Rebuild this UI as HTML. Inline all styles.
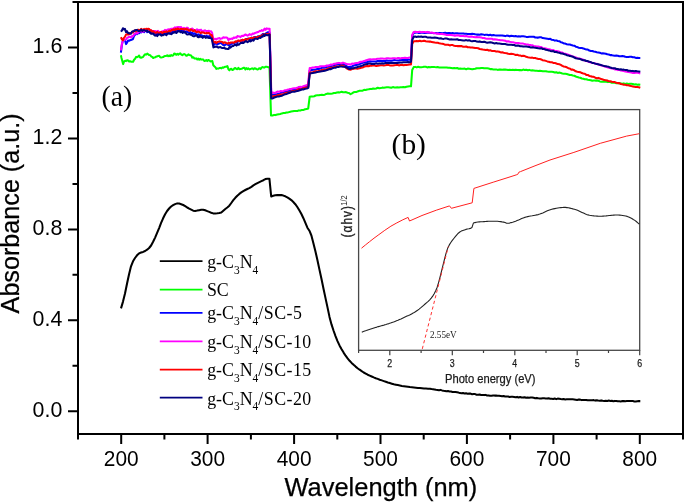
<!DOCTYPE html>
<html><head><meta charset="utf-8"><title>UV-vis absorbance</title>
<style>html,body{margin:0;padding:0;background:#fff}svg{display:block;will-change:transform}</style></head>
<body>
<svg width="685" height="502" viewBox="0 0 685 502">
<rect width="685" height="502" fill="#fff"/>
<path d="M121.0,308.4 L123.0,301.6 L125.0,293.5 L127.0,283.7 L129.0,274.5 L131.0,266.3 L133.0,261.3 L135.0,258.0 L137.0,255.3 L139.0,253.4 L141.1,252.5 L143.1,251.9 L145.1,251.0 L147.1,249.7 L149.1,248.0 L151.1,245.5 L153.1,241.8 L155.1,237.6 L157.1,232.9 L159.1,228.1 L161.1,222.9 L163.1,218.3 L165.1,214.3 L167.1,211.0 L169.1,208.5 L171.1,206.5 L173.1,205.2 L175.1,204.1 L177.2,203.4 L179.2,203.6 L181.2,204.2 L183.2,205.0 L185.2,206.1 L187.2,207.5 L189.2,208.7 L191.2,209.7 L193.2,210.7 L195.2,210.9 L197.2,210.6 L199.2,210.2 L201.2,209.8 L203.2,209.7 L205.2,210.3 L207.2,211.1 L209.2,211.9 L211.2,212.7 L213.2,213.4 L215.3,213.5 L217.3,213.3 L219.3,213.0 L221.3,212.6 L223.3,210.8 L225.3,209.0 L227.3,207.5 L229.3,205.7 L231.3,203.0 L233.3,200.2 L235.3,197.8 L237.3,195.7 L239.3,193.9 L241.3,192.4 L243.3,191.1 L245.3,190.0 L247.3,189.0 L249.3,188.1 L251.4,186.8 L253.4,185.4 L255.4,184.2 L257.4,183.1 L259.4,182.1 L261.4,181.1 L263.4,180.2 L265.4,179.1 L267.4,178.7 L269.4,178.7 L271.2,196.5 L273.2,195.7 L275.2,195.2 L277.2,195.1 L279.2,195.1 L281.3,195.1 L283.3,195.6 L285.3,196.3 L287.3,197.3 L289.3,198.6 L291.3,200.1 L293.3,202.0 L295.3,204.2 L297.3,207.0 L299.3,210.3 L301.4,214.0 L303.4,218.2 L305.4,222.8 L307.4,227.7 L309.4,230.7 L311.4,235.5 L313.4,243.3 L315.4,251.2 L317.4,259.9 L319.4,269.4 L321.5,279.0 L323.5,288.7 L325.5,298.1 L327.5,307.4 L329.5,316.9 L331.5,324.4 L333.5,330.5 L335.5,336.1 L337.5,341.1 L339.5,345.4 L341.6,349.2 L343.6,352.6 L345.6,355.7 L347.6,358.4 L349.6,360.8 L351.6,362.9 L353.6,364.8 L355.6,366.6 L357.6,368.2 L359.6,369.7 L361.7,371.2 L363.7,372.5 L365.7,373.6 L367.7,374.7 L369.7,375.6 L371.7,376.5 L373.7,377.4 L375.7,378.2 L377.7,378.9 L379.7,379.7 L381.8,380.4 L383.8,381.1 L385.8,381.8 L387.8,382.5 L389.8,383.1 L391.8,383.7 L393.8,384.3 L395.8,384.7 L397.8,385.1 L399.8,385.5 L401.9,385.9 L403.9,386.2 L405.9,386.5 L407.9,386.8 L409.9,387.1 L411.9,387.3 L413.9,387.5 L415.9,387.7 L417.9,387.9 L419.9,388.1 L422.0,388.3 L424.0,388.5 L426.0,388.6 L428.0,388.7 L430.0,388.8 L431.5,389.1 L433.0,389.3 L434.5,389.5 L436.0,389.8 L437.5,389.9 L439.0,390.2 L440.5,389.9 L442.0,390.4 L443.5,390.8 L445.0,390.9 L446.5,391.2 L448.0,391.0 L449.5,391.4 L451.0,391.5 L452.5,391.9 L454.0,392.1 L455.5,392.0 L457.0,392.3 L458.5,392.6 L460.0,393.1 L461.5,393.2 L463.0,393.0 L464.5,393.5 L466.1,393.3 L467.6,393.7 L469.1,393.6 L470.6,393.6 L472.1,394.2 L473.6,394.0 L475.1,394.1 L476.6,394.7 L478.1,394.7 L479.6,394.5 L481.1,395.0 L482.6,394.9 L484.1,395.1 L485.6,394.9 L487.1,395.5 L488.6,395.4 L490.1,395.7 L491.6,395.7 L493.1,395.5 L494.6,395.6 L496.1,395.6 L497.6,395.7 L499.1,395.8 L500.6,396.0 L502.1,396.3 L503.6,396.0 L505.1,396.5 L506.6,396.4 L508.1,396.5 L509.6,396.9 L511.1,396.8 L512.6,396.8 L514.1,396.9 L515.6,397.2 L517.1,396.9 L518.6,397.5 L520.1,397.0 L521.6,397.5 L523.1,397.6 L524.6,397.2 L526.1,397.8 L527.6,397.6 L529.1,397.8 L530.6,397.5 L532.1,397.6 L533.6,397.8 L535.1,398.2 L536.7,397.9 L538.2,398.3 L539.7,398.4 L541.2,398.5 L542.7,398.2 L544.2,398.3 L545.7,398.4 L547.2,398.6 L548.7,398.3 L550.2,398.7 L551.7,398.8 L553.2,398.9 L554.7,398.5 L556.2,399.1 L557.7,398.6 L559.2,398.8 L560.7,399.1 L562.2,399.3 L563.7,399.0 L565.2,399.4 L566.7,399.3 L568.2,399.2 L569.7,399.3 L571.2,399.3 L572.7,399.3 L574.2,399.4 L575.7,399.7 L577.2,400.0 L578.7,399.6 L580.2,399.6 L581.7,400.1 L583.2,400.0 L584.7,399.9 L586.2,399.9 L587.7,400.2 L589.2,400.3 L590.7,400.2 L592.2,400.2 L593.7,400.1 L595.2,400.6 L596.7,400.2 L598.2,400.5 L599.7,400.7 L601.2,400.4 L602.7,400.8 L604.2,401.0 L605.8,400.8 L607.3,401.0 L608.8,400.6 L610.3,400.9 L611.8,400.7 L613.3,401.2 L614.8,400.9 L616.3,401.0 L617.8,401.3 L619.3,401.3 L620.8,401.4 L622.3,401.1 L623.8,401.1 L625.3,401.2 L626.8,401.1 L628.3,401.0 L629.8,401.0 L631.3,400.9 L632.8,401.0 L634.3,401.4 L635.8,401.4 L637.3,401.2 L638.8,401.1 L640.3,401.1" fill="none" stroke="#000" stroke-width="2.05" stroke-linejoin="round" stroke-linecap="butt" />
<path d="M120.9,55.3 L121.5,58.0 L123.1,64.1 L124.1,61.4 L125.1,60.8 L126.1,61.1 L127.1,60.2 L128.1,60.5 L129.1,61.5 L130.1,61.2 L131.1,61.7 L132.1,61.8 L133.1,61.8 L134.1,59.7 L135.1,58.7 L136.1,56.9 L137.1,57.1 L138.1,56.6 L139.1,55.5 L140.1,57.5 L141.1,57.7 L142.2,57.3 L143.2,56.8 L144.2,55.3 L145.2,54.2 L146.2,54.6 L147.2,53.6 L148.2,54.3 L149.2,55.1 L150.2,55.2 L151.2,56.5 L152.2,56.9 L153.2,58.0 L154.2,57.4 L155.2,57.3 L156.2,56.6 L157.2,56.4 L158.2,55.9 L159.2,55.7 L160.2,57.2 L161.2,57.4 L162.2,57.3 L163.2,57.1 L164.2,56.3 L165.2,56.0 L166.2,55.9 L167.2,55.3 L168.2,56.3 L169.2,55.5 L170.2,56.1 L171.2,55.0 L172.2,55.8 L173.2,55.4 L174.2,53.6 L175.2,53.7 L176.2,54.8 L177.2,53.9 L178.3,54.8 L179.3,53.8 L180.3,53.4 L181.3,54.7 L182.3,55.2 L183.3,54.4 L184.3,54.1 L185.3,54.6 L186.3,55.7 L187.3,55.4 L188.3,54.4 L189.3,55.0 L190.3,55.2 L191.3,55.7 L192.3,57.7 L193.3,57.2 L194.3,58.4 L195.3,58.6 L196.3,58.4 L197.3,59.5 L198.3,58.6 L199.3,59.7 L200.3,58.9 L201.3,59.6 L202.3,59.4 L203.3,59.6 L204.3,61.0 L205.3,60.8 L206.3,60.0 L207.3,61.1 L208.3,60.0 L209.3,60.4 L210.3,61.4 L211.3,61.2 L212.3,61.1 L213.3,65.3 L214.3,66.3 L215.4,67.3 L216.4,68.9 L217.4,68.5 L218.4,68.6 L219.4,68.1 L220.4,67.9 L221.4,68.4 L222.4,67.4 L223.4,67.8 L224.4,67.0 L225.4,66.7 L226.4,66.7 L227.4,66.0 L228.4,69.3 L229.4,70.3 L230.4,69.0 L231.4,68.8 L232.4,70.0 L233.4,69.6 L234.4,68.3 L235.4,68.0 L236.4,68.9 L237.4,69.2 L238.4,67.9 L239.4,69.2 L240.4,69.1 L241.4,68.7 L242.4,68.4 L243.4,67.8 L244.4,67.8 L245.4,69.5 L246.4,68.2 L247.4,69.1 L248.4,68.4 L249.4,69.4 L250.4,69.1 L251.5,68.6 L252.5,68.4 L253.5,69.4 L254.5,68.2 L255.5,68.5 L256.5,69.1 L257.5,69.5 L258.5,68.9 L259.5,68.2 L260.5,69.1 L261.5,67.7 L262.5,67.1 L263.5,67.4 L264.5,67.6 L265.5,66.7 L266.5,66.8 L267.5,67.0 L268.5,67.3 L269.5,67.3 L271.0,115.4 L272.6,115.5 L274.1,114.9 L275.6,115.1 L277.2,114.6 L278.8,114.2 L280.3,114.0 L281.9,113.4 L283.4,113.1 L284.9,112.9 L286.5,112.4 L288.1,112.4 L289.6,111.9 L291.1,111.6 L292.7,111.3 L294.2,111.0 L295.8,111.1 L297.4,111.0 L298.9,110.4 L300.4,110.5 L302.0,109.9 L303.6,109.9 L305.1,109.2 L306.6,109.1 L308.2,108.5 L309.7,96.7 L311.2,96.4 L312.7,96.5 L314.2,96.2 L315.7,95.5 L317.3,95.3 L318.8,95.3 L320.3,94.9 L321.8,94.7 L323.3,95.0 L324.8,94.7 L326.3,93.9 L327.8,93.6 L329.4,93.8 L330.9,93.8 L332.4,93.5 L333.9,93.1 L335.4,92.9 L336.9,92.5 L338.4,92.3 L339.9,92.4 L341.5,91.8 L343.0,92.2 L344.5,92.3 L346.0,92.1 L347.5,92.8 L349.0,93.0 L350.5,94.2 L352.0,93.3 L353.5,92.3 L355.1,92.0 L356.6,91.9 L358.1,91.2 L359.6,90.8 L361.1,90.8 L362.6,90.7 L364.1,89.8 L365.6,89.9 L367.2,89.4 L368.7,89.3 L370.2,88.9 L371.7,89.0 L373.2,88.5 L374.7,88.7 L376.2,88.5 L377.7,87.8 L379.2,88.3 L380.8,88.1 L382.3,87.6 L383.8,87.8 L385.3,87.5 L386.8,87.3 L388.3,87.3 L389.8,87.4 L391.3,87.8 L392.9,87.1 L394.4,87.5 L395.9,87.6 L397.4,87.2 L398.9,87.4 L400.4,87.2 L401.9,87.3 L403.4,87.0 L405.0,87.2 L406.5,86.7 L408.0,86.5 L409.5,86.3 L411.0,86.3 L412.2,70.0 L413.7,67.1 L415.2,66.9 L416.7,67.4 L418.2,66.8 L419.7,67.2 L421.2,67.2 L422.7,67.0 L424.2,66.7 L425.7,66.8 L427.2,67.4 L428.7,67.0 L430.2,67.3 L431.7,66.9 L433.2,66.9 L434.7,67.1 L436.2,67.2 L437.7,67.1 L439.2,67.5 L440.7,67.5 L442.2,67.5 L443.7,67.4 L445.2,67.5 L446.7,67.5 L448.2,67.8 L449.7,67.7 L451.2,68.0 L452.7,68.3 L454.2,68.0 L455.7,68.3 L457.2,68.0 L458.7,68.7 L460.2,68.6 L461.7,68.7 L463.2,68.8 L464.7,68.6 L466.2,69.2 L467.7,68.6 L469.2,68.8 L470.7,69.0 L472.2,69.2 L473.7,68.9 L475.2,68.8 L476.7,68.2 L478.2,68.2 L479.7,68.3 L481.2,68.1 L482.7,68.0 L484.2,68.3 L485.7,68.2 L487.2,68.3 L488.7,68.5 L490.2,69.1 L491.7,69.1 L493.2,69.4 L494.7,69.4 L496.2,69.4 L497.7,69.9 L499.2,69.6 L500.7,69.6 L502.2,69.7 L503.7,69.6 L505.2,69.6 L506.7,69.7 L508.2,70.0 L509.7,69.7 L511.2,69.9 L512.7,69.8 L514.2,70.1 L515.7,69.7 L517.2,69.9 L518.7,70.1 L520.2,70.1 L521.7,70.2 L523.2,69.6 L524.7,69.9 L526.2,69.7 L527.8,70.3 L529.3,69.9 L530.8,70.4 L532.3,70.3 L533.8,70.5 L535.3,70.7 L536.8,70.8 L538.3,70.9 L539.8,70.7 L541.3,71.0 L542.8,71.3 L544.3,71.3 L545.8,71.2 L547.3,71.6 L548.8,71.7 L550.3,71.7 L551.8,71.8 L553.3,72.0 L554.8,72.5 L556.3,72.2 L557.8,72.9 L559.3,72.6 L560.8,72.9 L562.3,73.5 L563.8,73.7 L565.3,73.7 L566.8,74.0 L568.3,74.5 L569.8,75.0 L571.3,75.1 L572.8,75.5 L574.3,75.8 L575.8,76.5 L577.3,77.1 L578.8,77.5 L580.3,77.8 L581.8,78.5 L583.3,78.8 L584.8,79.3 L586.3,79.3 L587.8,79.8 L589.3,80.0 L590.8,80.2 L592.3,80.7 L593.8,80.5 L595.3,80.6 L596.8,80.6 L598.3,80.8 L599.8,81.4 L601.3,81.7 L602.8,81.7 L604.3,81.6 L605.8,81.6 L607.3,82.1 L608.8,82.0 L610.3,82.1 L611.8,82.7 L613.3,82.5 L614.8,82.8 L616.3,83.2 L617.8,83.1 L619.3,83.2 L620.8,83.4 L622.3,83.8 L623.8,83.4 L625.3,83.9 L626.8,83.6 L628.3,84.0 L629.8,83.7 L631.3,83.8 L632.8,84.0 L634.3,84.5 L635.8,84.3 L637.3,84.7 L638.8,84.5 L640.3,84.7" fill="none" stroke="#00ff00" stroke-width="2.05" stroke-linejoin="round" stroke-linecap="butt" />
<path d="M120.9,52.6 L121.9,44.7 L122.9,40.6 L123.9,39.9 L124.9,39.8 L126.0,44.1 L127.0,42.7 L128.0,40.6 L129.0,40.8 L130.0,40.2 L131.0,39.9 L132.0,39.6 L133.0,39.0 L134.0,36.0 L135.0,34.9 L136.1,33.5 L137.1,34.2 L138.1,32.2 L139.1,33.2 L140.1,31.5 L141.1,32.4 L142.1,31.6 L143.1,31.6 L144.1,32.2 L145.1,30.6 L146.2,30.6 L147.2,32.2 L148.2,31.5 L149.2,31.0 L150.2,32.9 L151.2,33.2 L152.2,32.1 L153.2,33.0 L154.2,32.8 L155.2,33.4 L156.2,34.1 L157.3,33.4 L158.3,34.3 L159.3,33.1 L160.3,33.3 L161.3,34.4 L162.3,33.5 L163.3,33.4 L164.3,33.6 L165.3,33.3 L166.4,33.0 L167.4,32.2 L168.4,33.3 L169.4,33.6 L170.4,33.4 L171.4,32.5 L172.4,31.7 L173.4,31.4 L174.4,31.8 L175.4,31.5 L176.4,30.2 L177.5,30.2 L178.5,30.3 L179.5,30.5 L180.5,31.1 L181.5,30.6 L182.5,29.9 L183.5,31.6 L184.5,31.1 L185.5,31.6 L186.6,31.4 L187.6,32.0 L188.6,32.2 L189.6,33.2 L190.6,32.2 L191.6,33.3 L192.6,33.0 L193.6,34.2 L194.6,33.3 L195.6,34.0 L196.7,34.4 L197.7,35.2 L198.7,34.4 L199.7,35.4 L200.7,35.1 L201.7,35.4 L202.7,35.9 L203.7,36.8 L204.7,36.1 L205.7,37.0 L206.8,35.7 L207.8,37.2 L208.8,36.3 L209.8,36.1 L210.8,37.4 L211.8,37.5 L213.4,43.9 L214.4,44.6 L215.4,43.0 L216.4,43.5 L217.4,44.4 L218.4,43.6 L219.4,43.4 L220.4,43.0 L221.4,43.1 L222.4,44.3 L223.4,45.1 L224.4,45.3 L225.4,44.6 L226.4,43.9 L227.5,44.5 L228.5,45.3 L229.5,45.2 L230.5,44.6 L231.5,43.6 L232.5,43.7 L233.5,43.2 L234.5,43.0 L235.5,41.9 L236.5,42.7 L237.5,42.3 L238.5,40.7 L239.5,40.7 L240.5,41.5 L241.5,40.2 L242.5,41.1 L243.5,40.1 L244.5,40.2 L245.5,40.0 L246.5,38.9 L247.5,38.8 L248.5,38.6 L249.5,39.1 L250.5,38.9 L251.5,37.6 L252.5,38.8 L253.5,37.7 L254.5,37.1 L255.6,37.1 L256.6,37.7 L257.6,36.6 L258.6,36.3 L259.6,36.4 L260.6,36.0 L261.6,35.1 L262.6,34.1 L263.6,33.9 L264.6,34.1 L265.6,33.6 L266.6,33.0 L267.6,32.3 L268.6,32.3 L269.6,32.5 L271.2,94.9 L272.7,94.7 L274.3,94.6 L275.8,94.2 L277.4,94.0 L278.9,93.7 L280.5,93.2 L282.0,92.4 L283.6,92.0 L285.1,91.8 L286.7,91.3 L288.2,91.3 L289.8,90.7 L291.3,90.1 L292.8,89.7 L294.4,89.2 L295.9,89.1 L297.5,88.9 L299.0,87.9 L300.6,87.7 L302.1,87.3 L303.7,87.1 L305.2,86.4 L306.8,85.9 L308.3,85.8 L309.7,70.4 L311.2,70.2 L312.7,69.7 L314.2,69.7 L315.7,69.6 L317.3,69.0 L318.8,69.0 L320.3,68.6 L321.8,67.8 L323.3,67.7 L324.8,67.7 L326.3,67.2 L327.8,66.6 L329.4,66.8 L330.9,66.2 L332.4,65.7 L333.9,65.4 L335.4,64.8 L336.9,64.7 L338.4,64.2 L339.9,64.4 L341.5,64.4 L343.0,63.9 L344.5,64.5 L346.0,65.7 L347.5,66.9 L349.0,67.0 L350.5,67.1 L352.0,66.5 L353.5,65.6 L355.1,65.0 L356.6,65.0 L358.1,64.4 L359.6,64.0 L361.1,63.5 L362.6,62.8 L364.1,62.6 L365.6,62.2 L367.2,61.9 L368.7,61.5 L370.2,61.3 L371.7,61.5 L373.2,61.5 L374.7,61.4 L376.2,61.5 L377.7,61.0 L379.2,60.9 L380.8,60.8 L382.3,60.9 L383.8,60.9 L385.3,61.0 L386.8,60.4 L388.3,60.7 L389.8,60.8 L391.3,60.7 L392.9,60.4 L394.4,60.1 L395.9,60.3 L397.4,60.4 L398.9,60.5 L400.4,60.0 L401.9,60.1 L403.4,60.0 L405.0,59.8 L406.5,60.3 L408.0,59.8 L409.5,59.8 L411.0,59.8 L412.2,36.0 L413.7,32.9 L415.2,32.8 L416.7,32.4 L418.2,32.9 L419.7,32.9 L421.2,32.7 L422.7,32.6 L424.2,32.9 L425.7,33.0 L427.2,32.8 L428.7,32.6 L430.2,33.0 L431.7,32.9 L433.2,33.1 L434.7,33.1 L436.2,33.0 L437.7,33.2 L439.2,32.9 L440.7,33.0 L442.2,33.2 L443.7,33.0 L445.2,32.8 L446.7,33.3 L448.2,33.1 L449.7,33.1 L451.2,33.2 L452.7,33.1 L454.2,33.5 L455.7,33.2 L457.2,33.2 L458.7,33.6 L460.2,33.5 L461.7,33.5 L463.2,33.4 L464.7,33.7 L466.2,33.8 L467.7,33.9 L469.2,34.1 L470.7,33.9 L472.2,33.8 L473.7,33.9 L475.2,34.3 L476.7,34.6 L478.2,34.6 L479.7,34.8 L481.2,34.3 L482.7,34.4 L484.2,34.9 L485.7,34.7 L487.2,34.8 L488.7,35.2 L490.2,34.7 L491.7,35.4 L493.2,35.0 L494.7,35.3 L496.2,35.5 L497.7,35.5 L499.2,35.6 L500.7,35.4 L502.2,35.5 L503.7,35.8 L505.2,36.1 L506.7,35.6 L508.2,35.7 L509.7,36.4 L511.2,35.8 L512.7,35.9 L514.2,36.2 L515.7,36.1 L517.2,36.4 L518.7,36.3 L520.2,36.6 L521.7,36.2 L523.2,36.3 L524.7,36.4 L526.2,36.9 L527.8,37.1 L529.3,36.7 L530.8,36.7 L532.3,36.7 L533.8,36.8 L535.3,37.5 L536.8,37.6 L538.3,37.6 L539.8,37.2 L541.3,37.3 L542.8,38.1 L544.3,38.2 L545.8,38.5 L547.3,38.8 L548.8,39.1 L550.3,38.8 L551.8,39.8 L553.3,39.9 L554.8,40.6 L556.3,40.4 L557.8,41.0 L559.3,41.2 L560.8,42.2 L562.3,42.6 L563.8,43.4 L565.3,43.6 L566.8,44.2 L568.3,44.4 L569.8,44.5 L571.3,45.0 L572.8,45.4 L574.3,45.7 L575.8,46.7 L577.3,47.1 L578.8,47.7 L580.3,48.0 L581.8,48.0 L583.3,48.4 L584.8,49.0 L586.3,49.4 L587.8,49.6 L589.3,50.5 L590.8,50.9 L592.3,51.0 L593.8,51.5 L595.3,51.8 L596.8,52.2 L598.3,52.5 L599.8,52.8 L601.3,53.4 L602.8,53.2 L604.3,53.4 L605.8,53.7 L607.3,54.3 L608.8,54.5 L610.3,55.1 L611.8,55.1 L613.3,55.6 L614.8,55.8 L616.3,55.6 L617.8,55.7 L619.3,56.2 L620.8,56.2 L622.3,56.1 L623.8,56.2 L625.3,56.8 L626.8,57.1 L628.3,57.0 L629.8,56.7 L631.3,56.8 L632.8,57.3 L634.3,57.3 L635.8,57.9 L637.3,57.7 L638.8,58.0 L640.3,58.0" fill="none" stroke="#0000ff" stroke-width="2.05" stroke-linejoin="round" stroke-linecap="butt" />
<path d="M120.9,50.4 L122.0,43.5 L123.0,40.3 L124.0,40.0 L125.0,39.7 L126.0,39.6 L127.0,37.9 L128.0,37.5 L129.0,36.9 L130.0,36.7 L131.0,37.4 L132.0,36.0 L133.0,36.1 L134.0,34.5 L135.0,33.6 L136.0,33.2 L137.0,33.4 L138.0,32.6 L139.0,31.2 L140.0,31.4 L141.0,30.9 L142.0,31.9 L143.0,31.5 L144.0,31.2 L145.0,31.0 L146.0,30.6 L147.0,30.9 L148.0,30.5 L149.0,29.6 L150.0,30.8 L151.0,30.4 L152.0,31.1 L153.0,31.0 L154.0,31.0 L155.0,31.1 L156.0,31.4 L157.0,31.3 L158.0,30.9 L159.0,32.1 L160.0,32.0 L161.0,32.2 L162.0,31.5 L163.0,31.1 L164.0,31.2 L165.0,29.9 L166.0,30.7 L167.0,30.0 L168.0,29.4 L169.0,29.2 L170.0,29.5 L171.0,28.7 L172.0,28.8 L173.0,28.8 L174.0,28.1 L175.0,27.4 L176.0,27.8 L177.0,27.2 L178.0,27.1 L179.0,27.1 L180.0,27.4 L181.0,27.0 L182.0,28.1 L183.0,28.7 L184.0,27.9 L185.0,28.6 L186.0,29.1 L187.0,27.6 L188.0,28.0 L189.0,29.3 L190.0,29.5 L191.0,29.2 L192.0,28.5 L193.0,29.1 L194.0,30.1 L195.0,30.2 L196.0,30.2 L197.0,29.3 L198.0,30.6 L199.0,29.9 L200.0,30.6 L201.0,29.7 L202.0,31.3 L203.0,30.8 L204.0,31.1 L205.0,30.2 L206.0,31.0 L207.0,31.0 L208.0,31.1 L209.0,30.8 L210.0,31.7 L211.0,31.2 L212.0,32.5 L213.4,39.5 L214.4,39.0 L215.4,38.7 L216.4,39.5 L217.4,38.4 L218.4,38.4 L219.4,38.0 L220.4,38.9 L221.4,38.5 L222.4,38.3 L223.4,37.2 L224.4,37.7 L225.4,37.5 L226.4,37.5 L227.5,38.0 L228.5,40.3 L229.5,38.8 L230.5,39.0 L231.5,38.6 L232.5,38.9 L233.5,37.6 L234.5,37.9 L235.5,37.3 L236.5,37.8 L237.5,36.0 L238.5,36.4 L239.5,36.4 L240.5,37.1 L241.5,36.1 L242.5,35.8 L243.5,36.0 L244.5,35.1 L245.5,34.5 L246.5,35.1 L247.5,35.7 L248.5,35.2 L249.5,34.1 L250.5,34.7 L251.5,34.8 L252.5,33.5 L253.5,33.9 L254.5,33.3 L255.6,32.8 L256.6,32.5 L257.6,32.0 L258.6,31.9 L259.6,30.9 L260.6,31.1 L261.6,30.1 L262.6,30.8 L263.6,30.1 L264.6,28.7 L265.6,29.8 L266.6,28.4 L267.6,28.8 L268.6,28.8 L269.6,28.7 L271.3,93.2 L272.8,92.6 L274.4,92.9 L275.9,92.5 L277.4,91.6 L278.9,91.7 L280.5,91.1 L282.0,91.3 L283.5,90.9 L285.1,90.2 L286.6,90.0 L288.1,89.6 L289.6,89.1 L291.2,88.9 L292.7,88.5 L294.2,88.3 L295.8,88.3 L297.3,87.8 L298.8,87.0 L300.4,86.8 L301.9,86.9 L303.4,86.3 L304.9,85.8 L306.5,85.3 L308.0,84.5 L309.7,68.1 L311.2,68.0 L312.7,67.5 L314.2,67.4 L315.7,67.1 L317.3,66.9 L318.8,67.0 L320.3,66.3 L321.8,66.2 L323.3,66.3 L324.8,66.2 L326.3,65.6 L327.8,65.6 L329.4,65.3 L330.9,64.5 L332.4,64.7 L333.9,63.8 L335.4,63.7 L336.9,63.2 L338.4,62.9 L339.9,63.1 L341.5,63.2 L343.0,62.6 L344.5,63.1 L346.0,63.8 L347.5,64.3 L349.0,64.3 L350.5,64.6 L352.0,63.6 L353.5,63.7 L355.1,63.2 L356.6,63.0 L358.1,62.9 L359.6,62.1 L361.1,61.7 L362.6,61.5 L364.1,61.1 L365.6,60.5 L367.2,59.9 L368.7,59.5 L370.2,59.2 L371.7,59.4 L373.2,59.2 L374.7,59.2 L376.2,59.1 L377.7,58.8 L379.2,58.8 L380.8,58.5 L382.3,58.5 L383.8,58.8 L385.3,58.7 L386.8,58.2 L388.3,58.2 L389.8,58.4 L391.3,58.4 L392.9,58.2 L394.4,58.2 L395.9,58.6 L397.4,58.1 L398.9,58.1 L400.4,58.4 L401.9,58.0 L403.4,58.0 L405.0,57.7 L406.5,58.1 L408.0,58.0 L409.5,57.5 L411.0,57.5 L412.2,35.0 L413.7,32.0 L415.2,31.7 L416.7,32.1 L418.2,31.9 L419.7,31.7 L421.2,32.2 L422.7,31.9 L424.2,32.0 L425.7,32.3 L427.2,31.9 L428.7,32.2 L430.2,32.7 L431.7,32.5 L433.2,33.0 L434.7,33.1 L436.2,33.6 L437.7,33.6 L439.2,34.0 L440.7,34.0 L442.2,34.0 L443.7,34.3 L445.2,34.6 L446.7,34.9 L448.2,34.9 L449.7,35.0 L451.2,35.0 L452.7,35.3 L454.2,35.6 L455.7,35.6 L457.2,35.3 L458.7,35.6 L460.2,36.0 L461.7,36.0 L463.2,35.9 L464.7,36.2 L466.2,36.0 L467.7,36.4 L469.2,36.8 L470.7,36.6 L472.2,36.6 L473.7,37.1 L475.2,37.2 L476.7,37.1 L478.2,37.2 L479.7,37.2 L481.2,37.4 L482.7,38.1 L484.2,38.0 L485.7,38.4 L487.2,38.7 L488.7,38.7 L490.2,38.7 L491.7,38.7 L493.2,39.5 L494.7,39.2 L496.2,39.4 L497.7,39.8 L499.2,39.9 L500.7,40.2 L502.2,40.3 L503.7,40.5 L505.2,40.7 L506.7,41.6 L508.2,41.2 L509.7,41.7 L511.2,42.0 L512.7,42.2 L514.2,42.6 L515.7,42.9 L517.2,42.9 L518.7,43.0 L520.2,43.4 L521.7,43.5 L523.2,43.6 L524.7,44.1 L526.2,44.4 L527.8,44.5 L529.3,44.9 L530.8,45.1 L532.3,45.2 L533.8,46.2 L535.3,46.2 L536.8,46.5 L538.3,46.5 L539.8,47.0 L541.3,47.1 L542.8,48.1 L544.3,48.2 L545.8,48.5 L547.3,49.0 L548.8,49.2 L550.3,49.6 L551.8,50.3 L553.3,50.1 L554.8,50.9 L556.3,51.1 L557.8,51.3 L559.3,51.7 L560.8,52.5 L562.3,52.6 L563.8,53.5 L565.3,53.7 L566.8,54.2 L568.3,54.8 L569.8,55.3 L571.3,55.9 L572.8,56.4 L574.3,57.0 L575.8,57.4 L577.3,58.2 L578.8,58.5 L580.3,58.8 L581.8,59.3 L583.3,59.7 L584.8,60.7 L586.3,60.9 L587.8,61.6 L589.3,62.0 L590.8,62.4 L592.3,62.8 L593.8,63.0 L595.3,63.7 L596.8,63.8 L598.3,64.5 L599.8,65.1 L601.3,65.4 L602.8,65.8 L604.3,66.4 L605.8,66.8 L607.3,67.2 L608.8,67.7 L610.3,68.0 L611.8,68.5 L613.3,68.5 L614.8,69.4 L616.3,69.4 L617.8,70.1 L619.3,69.9 L620.8,70.6 L622.3,70.7 L623.8,71.1 L625.3,71.6 L626.8,71.8 L628.3,72.1 L629.8,72.2 L631.3,72.6 L632.8,72.9 L634.3,73.0 L635.8,72.7 L637.3,72.8 L638.8,73.1 L640.3,73.4" fill="none" stroke="#ff00ff" stroke-width="2.05" stroke-linejoin="round" stroke-linecap="butt" />
<path d="M120.9,37.3 L121.9,39.3 L122.9,40.3 L123.9,37.9 L124.9,36.9 L126.0,34.6 L127.0,34.1 L128.0,34.6 L129.0,34.2 L130.0,33.1 L131.0,33.3 L132.0,32.3 L133.0,32.4 L134.0,30.7 L135.0,30.5 L136.1,31.4 L137.1,30.1 L138.1,29.7 L139.1,30.4 L140.1,29.9 L141.1,28.9 L142.1,29.6 L143.1,29.8 L144.1,28.9 L145.1,29.8 L146.2,28.8 L147.2,29.2 L148.2,28.8 L149.2,29.1 L150.2,30.8 L151.2,30.2 L152.2,31.8 L153.2,31.2 L154.2,32.0 L155.2,32.7 L156.2,32.7 L157.3,31.9 L158.3,32.9 L159.3,33.0 L160.3,32.2 L161.3,31.9 L162.3,33.2 L163.3,32.4 L164.3,31.7 L165.3,32.0 L166.4,31.3 L167.4,32.2 L168.4,31.5 L169.4,30.6 L170.4,31.6 L171.4,30.0 L172.4,30.1 L173.4,29.3 L174.4,30.3 L175.4,28.9 L176.4,29.5 L177.5,28.5 L178.5,29.0 L179.5,29.3 L180.5,29.1 L181.5,29.0 L182.5,29.1 L183.5,29.1 L184.5,29.5 L185.5,28.7 L186.6,29.5 L187.6,29.3 L188.6,30.5 L189.6,30.8 L190.6,29.4 L191.6,29.7 L192.6,30.9 L193.6,30.9 L194.6,30.2 L195.6,31.6 L196.7,32.3 L197.7,31.6 L198.7,31.7 L199.7,32.3 L200.7,33.2 L201.7,32.2 L202.7,32.4 L203.7,32.4 L204.7,33.3 L205.7,33.2 L206.8,32.9 L207.8,33.3 L208.8,32.9 L209.8,33.7 L210.8,35.2 L211.8,35.0 L213.4,42.2 L214.4,42.4 L215.4,41.8 L216.4,43.0 L217.4,41.9 L218.4,41.8 L219.4,41.4 L220.4,41.6 L221.4,41.7 L222.4,41.9 L223.4,43.2 L224.4,42.3 L225.4,42.4 L226.4,43.1 L227.5,43.7 L228.5,42.6 L229.5,43.4 L230.5,42.5 L231.5,42.6 L232.5,42.4 L233.5,42.8 L234.5,42.1 L235.5,41.4 L236.5,41.7 L237.5,40.7 L238.5,40.5 L239.5,41.3 L240.5,40.4 L241.5,40.7 L242.5,39.7 L243.5,40.6 L244.5,39.9 L245.5,39.0 L246.5,40.1 L247.5,39.1 L248.5,38.7 L249.5,38.4 L250.5,37.9 L251.5,37.9 L252.5,38.6 L253.5,37.4 L254.5,37.5 L255.6,37.6 L256.6,37.5 L257.6,36.9 L258.6,37.3 L259.6,36.1 L260.6,35.9 L261.6,35.7 L262.6,34.8 L263.6,34.7 L264.6,34.3 L265.6,35.1 L266.6,33.9 L267.6,34.7 L268.6,33.8 L269.6,34.3 L271.2,97.0 L272.7,96.5 L274.3,96.0 L275.8,96.0 L277.4,95.3 L278.9,95.1 L280.5,94.4 L282.0,94.5 L283.6,93.9 L285.1,93.2 L286.7,92.6 L288.2,92.7 L289.8,92.3 L291.3,91.5 L292.8,90.9 L294.4,91.1 L295.9,90.6 L297.5,89.9 L299.0,89.2 L300.6,89.2 L302.1,89.0 L303.7,88.1 L305.2,87.7 L306.8,87.6 L308.3,87.0 L309.7,72.5 L311.2,72.4 L312.7,72.2 L314.2,71.7 L315.7,71.2 L317.3,71.4 L318.8,71.0 L320.3,70.7 L321.8,70.0 L323.3,69.7 L324.8,69.9 L326.3,69.5 L327.8,68.6 L329.4,68.2 L330.9,67.8 L332.4,67.8 L333.9,67.1 L335.4,66.6 L336.9,66.6 L338.4,66.6 L339.9,66.0 L341.5,65.6 L343.0,65.7 L344.5,66.5 L346.0,67.7 L347.5,68.8 L349.0,69.5 L350.5,69.7 L352.0,69.1 L353.5,68.7 L355.1,68.4 L356.6,68.6 L358.1,68.6 L359.6,68.2 L361.1,67.7 L362.6,67.5 L364.1,66.7 L365.6,66.3 L367.2,66.0 L368.7,66.2 L370.2,65.5 L371.7,65.7 L373.2,65.3 L374.7,65.5 L376.2,65.9 L377.7,65.7 L379.2,65.4 L380.8,65.2 L382.3,65.2 L383.8,65.4 L385.3,65.3 L386.8,65.1 L388.3,64.9 L389.8,65.4 L391.3,65.6 L392.9,65.5 L394.4,65.2 L395.9,65.1 L397.4,64.8 L398.9,65.4 L400.4,65.0 L401.9,64.7 L403.4,65.3 L405.0,65.0 L406.5,65.0 L408.0,64.8 L409.5,64.5 L411.0,64.5 L412.2,44.0 L413.7,41.2 L415.2,41.2 L416.7,41.0 L418.2,41.3 L419.7,40.8 L421.2,41.3 L422.7,41.1 L424.2,40.7 L425.7,41.3 L427.2,41.5 L428.7,41.6 L430.2,41.6 L431.7,41.9 L433.2,42.2 L434.7,42.6 L436.2,42.7 L437.7,42.8 L439.2,43.3 L440.7,43.6 L442.2,43.7 L443.7,44.1 L445.2,44.7 L446.7,44.8 L448.2,44.8 L449.7,45.4 L451.2,45.0 L452.7,45.1 L454.2,45.7 L455.7,46.0 L457.2,46.1 L458.7,46.1 L460.2,46.1 L461.7,46.1 L463.2,46.8 L464.7,46.7 L466.2,46.5 L467.7,47.2 L469.2,47.3 L470.7,47.6 L472.2,47.4 L473.7,47.7 L475.2,48.0 L476.7,48.1 L478.2,48.3 L479.7,49.0 L481.2,49.2 L482.7,49.6 L484.2,49.7 L485.7,49.9 L487.2,49.7 L488.7,50.5 L490.2,50.3 L491.7,50.9 L493.2,51.1 L494.7,51.0 L496.2,51.6 L497.7,51.4 L499.2,51.7 L500.7,52.4 L502.2,52.3 L503.7,52.7 L505.2,53.0 L506.7,53.2 L508.2,53.7 L509.7,53.9 L511.2,53.8 L512.7,53.9 L514.2,54.4 L515.7,55.0 L517.2,54.8 L518.7,55.4 L520.2,55.4 L521.7,56.1 L523.2,55.7 L524.7,56.1 L526.2,56.8 L527.8,57.2 L529.3,57.5 L530.8,57.7 L532.3,57.6 L533.8,58.1 L535.3,58.0 L536.8,58.6 L538.3,59.0 L539.8,59.0 L541.3,59.4 L542.8,60.3 L544.3,60.4 L545.8,60.9 L547.3,61.4 L548.8,61.8 L550.3,62.3 L551.8,62.2 L553.3,62.9 L554.8,62.9 L556.3,63.5 L557.8,64.1 L559.3,64.3 L560.8,64.9 L562.3,65.9 L563.8,66.5 L565.3,66.8 L566.8,67.3 L568.3,68.2 L569.8,68.5 L571.3,69.6 L572.8,69.6 L574.3,70.3 L575.8,71.3 L577.3,71.7 L578.8,71.9 L580.3,72.2 L581.8,73.1 L583.3,73.5 L584.8,73.7 L586.3,74.9 L587.8,74.9 L589.3,75.9 L590.8,76.2 L592.3,76.8 L593.8,76.8 L595.3,77.7 L596.8,78.2 L598.3,77.9 L599.8,78.5 L601.3,79.1 L602.8,79.5 L604.3,80.1 L605.8,80.2 L607.3,80.5 L608.8,81.3 L610.3,81.2 L611.8,81.8 L613.3,82.0 L614.8,82.1 L616.3,82.8 L617.8,83.1 L619.3,83.1 L620.8,84.0 L622.3,84.3 L623.8,84.7 L625.3,84.8 L626.8,85.2 L628.3,85.3 L629.8,85.7 L631.3,86.1 L632.8,86.4 L634.3,86.7 L635.8,86.9 L637.3,87.0 L638.8,87.3 L640.3,87.8" fill="none" stroke="#ff0000" stroke-width="2.05" stroke-linejoin="round" stroke-linecap="butt" />
<path d="M120.9,31.6 L121.9,30.5 L122.9,28.3 L123.9,29.4 L124.9,28.8 L126.0,32.1 L127.0,31.1 L128.0,33.1 L129.0,33.1 L130.0,33.6 L131.0,33.6 L132.0,31.6 L133.0,31.2 L134.0,31.3 L135.0,30.2 L136.1,30.0 L137.1,29.9 L138.1,30.9 L139.1,30.9 L140.1,30.7 L141.1,29.7 L142.1,31.0 L143.1,30.4 L144.1,30.1 L145.1,30.7 L146.2,30.9 L147.2,30.6 L148.2,31.8 L149.2,31.8 L150.2,32.6 L151.2,33.8 L152.2,33.7 L153.2,33.7 L154.2,35.0 L155.2,35.7 L156.2,35.1 L157.3,36.1 L158.3,34.4 L159.3,34.5 L160.3,34.4 L161.3,35.7 L162.3,35.1 L163.3,35.1 L164.3,34.2 L165.3,34.5 L166.4,35.2 L167.4,33.6 L168.4,33.5 L169.4,33.2 L170.4,33.7 L171.4,34.1 L172.4,33.3 L173.4,32.7 L174.4,32.6 L175.4,31.8 L176.4,33.0 L177.5,31.7 L178.5,31.3 L179.5,31.3 L180.5,32.2 L181.5,31.5 L182.5,32.8 L183.5,32.1 L184.5,32.6 L185.5,32.3 L186.6,34.2 L187.6,34.4 L188.6,34.2 L189.6,33.8 L190.6,34.8 L191.6,34.8 L192.6,35.9 L193.6,36.3 L194.6,36.2 L195.6,35.5 L196.7,35.3 L197.7,37.0 L198.7,37.3 L199.7,36.1 L200.7,36.8 L201.7,36.9 L202.7,37.9 L203.7,36.3 L204.7,36.4 L205.7,37.9 L206.8,37.4 L207.8,37.3 L208.8,38.0 L209.8,37.8 L210.8,38.2 L211.8,38.5 L213.4,47.4 L214.4,47.0 L215.4,46.7 L216.4,46.5 L217.4,47.1 L218.4,47.7 L219.4,47.2 L220.4,47.1 L221.4,47.7 L222.4,48.0 L223.4,47.9 L224.4,47.6 L225.4,48.7 L226.4,48.8 L227.5,49.0 L228.5,48.9 L229.5,47.0 L230.5,47.6 L231.5,46.5 L232.5,46.1 L233.5,45.9 L234.5,44.9 L235.5,44.7 L236.5,45.6 L237.5,44.1 L238.5,44.8 L239.5,44.1 L240.5,43.1 L241.5,42.9 L242.5,43.1 L243.5,43.0 L244.5,42.1 L245.5,41.3 L246.5,41.2 L247.5,42.2 L248.5,41.7 L249.5,40.3 L250.5,41.4 L251.5,40.6 L252.5,39.9 L253.5,40.6 L254.5,39.0 L255.6,38.6 L256.6,38.7 L257.6,39.0 L258.6,38.2 L259.6,37.6 L260.6,37.9 L261.6,36.5 L262.6,36.8 L263.6,35.0 L264.6,36.0 L265.6,34.5 L266.6,35.2 L267.6,35.3 L268.6,34.9 L269.6,34.6 L271.2,98.4 L272.7,98.4 L274.3,97.5 L275.8,97.0 L277.4,96.6 L278.9,96.5 L280.5,96.1 L282.0,95.7 L283.6,94.9 L285.1,94.3 L286.7,93.9 L288.2,93.2 L289.8,92.8 L291.3,92.1 L292.8,91.6 L294.4,91.8 L295.9,91.3 L297.5,91.1 L299.0,90.5 L300.6,90.0 L302.1,89.3 L303.7,89.4 L305.2,88.7 L306.8,88.5 L308.3,87.8 L309.7,73.4 L311.2,73.3 L312.7,73.0 L314.2,72.7 L315.7,72.5 L317.3,71.9 L318.8,71.8 L320.3,71.4 L321.8,71.2 L323.3,71.1 L324.8,70.7 L326.3,70.3 L327.8,69.8 L329.4,69.1 L330.9,69.1 L332.4,68.3 L333.9,67.8 L335.4,67.8 L336.9,67.1 L338.4,67.0 L339.9,66.4 L341.5,66.6 L343.0,66.7 L344.5,66.7 L346.0,67.2 L347.5,67.9 L349.0,69.0 L350.5,68.8 L352.0,68.2 L353.5,68.2 L355.1,67.6 L356.6,67.5 L358.1,66.8 L359.6,66.4 L361.1,66.1 L362.6,65.6 L364.1,64.7 L365.6,64.2 L367.2,64.1 L368.7,63.5 L370.2,63.5 L371.7,64.0 L373.2,64.0 L374.7,63.9 L376.2,63.4 L377.7,63.8 L379.2,63.4 L380.8,63.6 L382.3,63.2 L383.8,63.6 L385.3,63.0 L386.8,62.9 L388.3,62.9 L389.8,63.1 L391.3,62.7 L392.9,63.0 L394.4,63.1 L395.9,63.0 L397.4,62.9 L398.9,62.7 L400.4,62.5 L401.9,62.5 L403.4,62.2 L405.0,62.3 L406.5,62.2 L408.0,62.1 L409.5,62.2 L411.0,61.8 L412.2,40.0 L413.7,36.8 L415.2,36.5 L416.7,36.9 L418.2,36.6 L419.7,36.7 L421.2,36.5 L422.7,37.0 L424.2,36.7 L425.7,36.8 L427.2,37.4 L428.7,37.6 L430.2,37.4 L431.7,37.7 L433.2,37.7 L434.7,37.5 L436.2,37.7 L437.7,38.1 L439.2,38.4 L440.7,38.3 L442.2,38.8 L443.7,38.9 L445.2,38.4 L446.7,38.5 L448.2,39.1 L449.7,39.4 L451.2,39.2 L452.7,39.5 L454.2,39.5 L455.7,39.6 L457.2,39.3 L458.7,40.0 L460.2,40.1 L461.7,40.2 L463.2,40.4 L464.7,40.4 L466.2,40.1 L467.7,40.6 L469.2,40.3 L470.7,40.9 L472.2,41.2 L473.7,40.9 L475.2,40.9 L476.7,41.6 L478.2,41.8 L479.7,41.4 L481.2,42.0 L482.7,42.1 L484.2,41.8 L485.7,42.3 L487.2,42.7 L488.7,42.4 L490.2,42.3 L491.7,42.5 L493.2,43.1 L494.7,43.4 L496.2,43.1 L497.7,43.5 L499.2,43.6 L500.7,43.7 L502.2,44.0 L503.7,44.0 L505.2,44.1 L506.7,44.4 L508.2,44.7 L509.7,44.8 L511.2,44.8 L512.7,45.0 L514.2,45.0 L515.7,45.7 L517.2,45.6 L518.7,45.6 L520.2,46.3 L521.7,46.3 L523.2,46.6 L524.7,46.5 L526.2,46.5 L527.8,46.7 L529.3,47.1 L530.8,47.5 L532.3,47.2 L533.8,47.5 L535.3,47.7 L536.8,48.0 L538.3,48.3 L539.8,48.4 L541.3,48.2 L542.8,49.0 L544.3,49.1 L545.8,49.8 L547.3,50.1 L548.8,50.4 L550.3,50.9 L551.8,51.2 L553.3,51.1 L554.8,52.0 L556.3,52.1 L557.8,52.5 L559.3,52.7 L560.8,53.4 L562.3,53.6 L563.8,54.0 L565.3,54.4 L566.8,55.2 L568.3,55.4 L569.8,56.1 L571.3,56.2 L572.8,56.7 L574.3,57.5 L575.8,58.2 L577.3,58.6 L578.8,58.8 L580.3,59.1 L581.8,59.7 L583.3,60.3 L584.8,60.3 L586.3,61.0 L587.8,61.1 L589.3,61.8 L590.8,62.0 L592.3,63.0 L593.8,63.1 L595.3,63.6 L596.8,64.1 L598.3,64.3 L599.8,64.7 L601.3,65.1 L602.8,65.6 L604.3,66.1 L605.8,66.3 L607.3,66.6 L608.8,66.8 L610.3,67.6 L611.8,68.0 L613.3,68.2 L614.8,68.2 L616.3,69.0 L617.8,69.0 L619.3,69.4 L620.8,69.2 L622.3,69.7 L623.8,69.6 L625.3,70.1 L626.8,70.0 L628.3,70.7 L629.8,70.7 L631.3,71.1 L632.8,70.9 L634.3,71.3 L635.8,71.1 L637.3,71.3 L638.8,71.4 L640.3,71.7" fill="none" stroke="#000080" stroke-width="2.05" stroke-linejoin="round" stroke-linecap="butt" />
<rect x="78" y="2" width="605" height="432" fill="none" stroke="#000" stroke-width="2"/>
<path d="M78.0,434 v5.5 M121.2,434 v10.0 M164.4,434 v5.5 M207.6,434 v10.0 M250.9,434 v5.5 M294.1,434 v10.0 M337.3,434 v5.5 M380.5,434 v10.0 M423.7,434 v5.5 M466.9,434 v10.0 M510.1,434 v5.5 M553.4,434 v10.0 M596.6,434 v5.5 M639.8,434 v10.0 M683.0,434 v5.5 M78,411.3 h-10.0 M78,365.8 h-5.5 M78,320.3 h-10.0 M78,274.8 h-5.5 M78,229.4 h-10.0 M78,183.9 h-5.5 M78,138.4 h-10.0 M78,92.9 h-5.5 M78,47.5 h-10.0 M78,2.0 h-5.5" stroke="#000" stroke-width="2" fill="none"/>
<text transform="translate(121.2,466.3) scale(0.95,1)" font-size="22" text-anchor="middle" font-family="Liberation Sans, Arial, Helvetica, sans-serif">200</text>
<text transform="translate(207.6,466.3) scale(0.95,1)" font-size="22" text-anchor="middle" font-family="Liberation Sans, Arial, Helvetica, sans-serif">300</text>
<text transform="translate(294.1,466.3) scale(0.95,1)" font-size="22" text-anchor="middle" font-family="Liberation Sans, Arial, Helvetica, sans-serif">400</text>
<text transform="translate(380.5,466.3) scale(0.95,1)" font-size="22" text-anchor="middle" font-family="Liberation Sans, Arial, Helvetica, sans-serif">500</text>
<text transform="translate(466.9,466.3) scale(0.95,1)" font-size="22" text-anchor="middle" font-family="Liberation Sans, Arial, Helvetica, sans-serif">600</text>
<text transform="translate(553.4,466.3) scale(0.95,1)" font-size="22" text-anchor="middle" font-family="Liberation Sans, Arial, Helvetica, sans-serif">700</text>
<text transform="translate(639.8,466.3) scale(0.95,1)" font-size="22" text-anchor="middle" font-family="Liberation Sans, Arial, Helvetica, sans-serif">800</text>
<text transform="translate(62.3,417.0) scale(0.955,1)" font-size="22.4" text-anchor="end" font-family="Liberation Sans, Arial, Helvetica, sans-serif">0.0</text>
<text transform="translate(62.3,326.0) scale(0.955,1)" font-size="22.4" text-anchor="end" font-family="Liberation Sans, Arial, Helvetica, sans-serif">0.4</text>
<text transform="translate(62.3,235.1) scale(0.955,1)" font-size="22.4" text-anchor="end" font-family="Liberation Sans, Arial, Helvetica, sans-serif">0.8</text>
<text transform="translate(62.3,144.1) scale(0.955,1)" font-size="22.4" text-anchor="end" font-family="Liberation Sans, Arial, Helvetica, sans-serif">1.2</text>
<text transform="translate(62.3,53.2) scale(0.955,1)" font-size="22.4" text-anchor="end" font-family="Liberation Sans, Arial, Helvetica, sans-serif">1.6</text>
<text x="284.5" y="495.7" font-size="25.2" textLength="192.8" lengthAdjust="spacingAndGlyphs" stroke="#000" stroke-width="0.25" font-family="Liberation Sans, Arial, Helvetica, sans-serif">Wavelength (nm)</text>
<text transform="translate(19.2,313.4) rotate(-90)" font-size="25.5" textLength="200" lengthAdjust="spacingAndGlyphs" stroke="#000" stroke-width="0.25" font-family="Liberation Sans, Arial, Helvetica, sans-serif">Absorbance (a.u.)</text>
<text transform="translate(101.6,105.7) scale(0.96,1)" font-size="28.8" font-family="Liberation Serif, Times New Roman, serif">(a)</text>
<path d="M159.8,261.2 H202.5" stroke="#000" stroke-width="1.8"/>
<text transform="translate(207.2,267.8) scale(0.955,1)" font-size="18.7" font-family="Liberation Serif, Times New Roman, serif">g-C<tspan font-size="12" dy="5.8">3</tspan><tspan dy="-5.8">N</tspan><tspan font-size="12" dy="5.8">4</tspan><tspan dy="-5.8" letter-spacing="0.5"></tspan></text>
<path d="M159.8,289.6 H202.5" stroke="#00ff00" stroke-width="1.8"/>
<text transform="translate(206.9,295.5) scale(0.955,1)" font-size="18.7" font-family="Liberation Serif, Times New Roman, serif">SC</text>
<path d="M159.8,312.8 H202.5" stroke="#0000ff" stroke-width="1.8"/>
<text transform="translate(207.2,319.2) scale(0.955,1)" font-size="18.7" font-family="Liberation Serif, Times New Roman, serif">g-C<tspan font-size="12" dy="5.8">3</tspan><tspan dy="-5.8">N</tspan><tspan font-size="12" dy="5.8">4</tspan><tspan dy="-5.8" letter-spacing="0.5">/SC-5</tspan></text>
<path d="M159.8,341.3 H202.5" stroke="#ff00ff" stroke-width="1.8"/>
<text transform="translate(207.2,347.8) scale(0.955,1)" font-size="18.7" font-family="Liberation Serif, Times New Roman, serif">g-C<tspan font-size="12" dy="5.8">3</tspan><tspan dy="-5.8">N</tspan><tspan font-size="12" dy="5.8">4</tspan><tspan dy="-5.8" letter-spacing="0.5">/SC-10</tspan></text>
<path d="M159.8,369.6 H202.5" stroke="#ff0000" stroke-width="1.8"/>
<text transform="translate(207.2,376.2) scale(0.955,1)" font-size="18.7" font-family="Liberation Serif, Times New Roman, serif">g-C<tspan font-size="12" dy="5.8">3</tspan><tspan dy="-5.8">N</tspan><tspan font-size="12" dy="5.8">4</tspan><tspan dy="-5.8" letter-spacing="0.5">/SC-15</tspan></text>
<path d="M159.8,397.7 H202.5" stroke="#000080" stroke-width="1.8"/>
<text transform="translate(207.2,404.6) scale(0.955,1)" font-size="18.7" font-family="Liberation Serif, Times New Roman, serif">g-C<tspan font-size="12" dy="5.8">3</tspan><tspan dy="-5.8">N</tspan><tspan font-size="12" dy="5.8">4</tspan><tspan dy="-5.8" letter-spacing="0.5">/SC-20</tspan></text>
<rect x="358.6" y="109.6" width="281.1" height="240.7" fill="#fff" stroke="#484848" stroke-width="1.3"/>
<path d="M358.6,350.3 v2.8 M389.8,350.3 v5.0 M421.1,350.3 v2.8 M452.3,350.3 v5.0 M483.5,350.3 v2.8 M514.8,350.3 v5.0 M546.0,350.3 v2.8 M577.2,350.3 v5.0 M608.5,350.3 v2.8 M639.7,350.3 v5.0" stroke="#404040" stroke-width="1.2" fill="none"/>
<text x="389.8" y="366.7" font-size="10.2" text-anchor="middle" fill="#1a1a1a" stroke="#1a1a1a" stroke-width="0.25" textLength="4.9" lengthAdjust="spacingAndGlyphs" font-family="Liberation Sans, Arial, Helvetica, sans-serif">2</text>
<text x="452.3" y="366.7" font-size="10.2" text-anchor="middle" fill="#1a1a1a" stroke="#1a1a1a" stroke-width="0.25" textLength="4.9" lengthAdjust="spacingAndGlyphs" font-family="Liberation Sans, Arial, Helvetica, sans-serif">3</text>
<text x="514.8" y="366.7" font-size="10.2" text-anchor="middle" fill="#1a1a1a" stroke="#1a1a1a" stroke-width="0.25" textLength="4.9" lengthAdjust="spacingAndGlyphs" font-family="Liberation Sans, Arial, Helvetica, sans-serif">4</text>
<text x="577.2" y="366.7" font-size="10.2" text-anchor="middle" fill="#1a1a1a" stroke="#1a1a1a" stroke-width="0.25" textLength="4.9" lengthAdjust="spacingAndGlyphs" font-family="Liberation Sans, Arial, Helvetica, sans-serif">5</text>
<text x="639.7" y="366.7" font-size="10.2" text-anchor="middle" fill="#1a1a1a" stroke="#1a1a1a" stroke-width="0.25" textLength="4.9" lengthAdjust="spacingAndGlyphs" font-family="Liberation Sans, Arial, Helvetica, sans-serif">6</text>
<text x="445" y="382.8" font-size="12.4" fill="#1a1a1a" stroke="#1a1a1a" stroke-width="0.25" textLength="90.5" lengthAdjust="spacingAndGlyphs" font-family="Liberation Sans, Arial, Helvetica, sans-serif">Photo energy (eV)</text>
<path d="M361.5,248.2 L365.4,245.0 L369.4,241.8 L374.0,238.2 L378.9,234.6 L384.8,230.3 L390.9,226.2 L396.8,222.9 L402.8,219.8 L408.1,217.4 L409.5,221.0 L422.0,215.5 L436.3,210.2 L449.5,205.9 L451.4,208.3 L472.2,202.8 L473.9,188.4 L493.8,182.0 L510.0,176.9 L516.8,174.7 L517.7,174.4 L518.9,172.2 L520.5,171.6 L535.0,165.8 L550.0,160.0 L573.9,152.4 L600.3,143.3 L626.6,136.1 L639.3,133.7" fill="none" stroke="#ff2020" stroke-width="1.0" stroke-linejoin="round" stroke-linecap="butt" />
<path d="M361.8,332.2 L363.3,331.6 L364.8,331.1 L366.3,330.6 L367.8,330.0 L369.3,329.5 L370.8,329.0 L372.4,328.5 L373.9,328.0 L375.4,327.5 L376.9,327.1 L378.4,326.6 L379.9,326.2 L381.4,325.8 L382.9,325.4 L384.4,324.9 L385.9,324.5 L387.4,324.0 L388.9,323.6 L390.5,323.1 L392.0,322.5 L393.5,322.0 L395.0,321.4 L396.5,320.8 L398.0,320.2 L399.5,319.5 L401.0,318.9 L402.5,318.2 L404.0,317.5 L405.5,316.8 L407.0,316.1 L408.6,315.4 L410.1,314.7 L411.6,313.9 L413.1,313.1 L414.6,312.2 L416.1,311.2 L417.6,310.2 L419.1,309.1 L420.6,307.9 L422.1,306.6 L423.6,305.3 L425.1,304.0 L426.7,302.6 L428.2,301.3 L429.7,299.8 L431.2,298.1 L432.7,296.1 L434.2,293.7 L435.7,290.8 L437.2,287.2 L438.7,282.1 L440.2,276.5 L441.7,270.4 L443.2,264.3 L444.7,258.3 L446.3,252.4 L447.8,247.9 L449.3,244.9 L450.8,242.5 L452.3,240.4 L453.8,238.5 L455.3,236.6 L456.8,234.8 L458.3,233.2 L459.8,232.0 L461.3,231.1 L462.8,230.5 L464.4,229.9 L465.9,229.4 L467.4,229.0 L468.9,228.8 L470.4,228.4 L471.9,227.6 L473.4,223.1 L474.9,222.6 L476.4,222.2 L477.9,222.0 L479.4,221.9 L480.9,221.8 L482.5,221.7 L484.0,221.6 L485.5,221.5 L487.0,221.4 L488.5,221.3 L490.0,221.3 L491.5,221.2 L493.0,221.2 L494.5,221.2 L496.0,221.2 L497.5,221.3 L499.0,221.5 L500.5,221.6 L502.1,221.9 L503.6,222.1 L505.1,222.5 L506.6,223.2 L508.1,223.3 L509.6,223.1 L511.1,222.6 L512.6,222.2 L514.1,221.7 L515.6,221.2 L517.1,220.6 L518.6,220.0 L520.2,219.3 L521.7,218.6 L523.2,218.0 L524.7,217.4 L526.2,217.0 L527.7,216.6 L529.2,216.3 L530.7,216.0 L532.2,215.8 L533.7,215.5 L535.2,215.2 L536.7,214.9 L538.3,214.6 L539.8,214.1 L541.3,213.5 L542.8,212.9 L544.3,212.2 L545.8,211.5 L547.3,210.8 L548.8,210.2 L550.3,209.7 L551.8,209.2 L553.3,208.9 L554.8,208.6 L556.4,208.3 L557.9,208.0 L559.4,207.8 L560.9,207.6 L562.4,207.5 L563.9,207.4 L565.4,207.4 L566.9,207.6 L568.4,207.8 L569.9,208.1 L571.4,208.5 L572.9,208.9 L574.4,209.2 L576.0,209.7 L577.5,210.3 L579.0,211.0 L580.5,211.7 L582.0,212.4 L583.5,213.1 L585.0,213.8 L586.5,214.4 L588.0,214.9 L589.5,215.3 L591.0,215.5 L592.5,215.7 L594.1,215.9 L595.6,216.0 L597.1,216.1 L598.6,216.2 L600.1,216.2 L601.6,216.2 L603.1,216.1 L604.6,216.0 L606.1,215.9 L607.6,215.7 L609.1,215.5 L610.6,215.4 L612.2,215.2 L613.7,215.1 L615.2,215.0 L616.7,215.0 L618.2,215.0 L619.7,215.1 L621.2,215.3 L622.7,215.5 L624.2,215.7 L625.7,216.0 L627.2,216.4 L628.7,216.9 L630.3,217.7 L631.8,218.5 L633.3,219.5 L634.8,220.4 L636.3,221.5 L637.8,222.8 L639.3,224.1" fill="none" stroke="#222" stroke-width="1.1" stroke-linejoin="round" stroke-linecap="butt" />
<path d="M422.3,348.9 L448.3,246.6" stroke="#ff3030" stroke-width="1" stroke-dasharray="3.2,2.6" fill="none"/>
<text x="430" y="337.8" font-size="10.3" fill="#222" textLength="26.7" lengthAdjust="spacingAndGlyphs" font-family="Liberation Serif, Times New Roman, serif">2.55eV</text>
<text x="391.6" y="154.2" font-size="29.4" font-family="Liberation Serif, Times New Roman, serif">(b)</text>
<text transform="translate(352.3,237.4) rotate(-90) scale(0.84,1)" font-size="14.2" fill="#1a1a1a" stroke="#1a1a1a" stroke-width="0.3" letter-spacing="1.2" font-family="Liberation Sans, Arial, Helvetica, sans-serif">(αhv)</text>
<text transform="translate(347.2,205.7) rotate(-90) scale(0.88,1)" font-size="8.5" fill="#1a1a1a" font-family="Liberation Sans, Arial, Helvetica, sans-serif">1/2</text>
</svg>
</body></html>
